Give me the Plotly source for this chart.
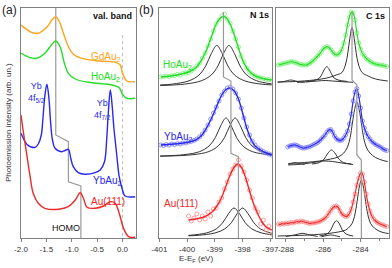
import plotly.graph_objects as go

W, H = 392, 268

# ---------------- panel (a): valence band ----------------
vb_gd_x = [-2.0, -1.79, -1.66, -1.49, -1.39, -1.315, -1.23, -1.18, -1.13, -1.066, -0.97, -0.80, -0.47, -0.14, -0.045, 0.0, 0.087, 0.25]
vb_gd_y = [213, 205.7, 204.7, 211, 218, 221.3, 214.7, 207, 199.7, 191.3, 183.7, 179.7, 177, 175.7, 173, 164.7, 157, 156.3]

vb_ho_x = [-2.0, -1.82, -1.69, -1.53, -1.39, -1.315, -1.23, -1.145, -1.066, -0.93, -0.67, -0.21, -0.065, 0.0, 0.087, 0.25]
vb_ho_y = [184.7, 180.3, 179.7, 184.7, 193.7, 197, 191.3, 174.7, 164.7, 159, 155.7, 153, 150.3, 143.7, 139.7, 139.7]

vb_yb_x = [-2.0, -1.89, -1.80, -1.72, -1.66, -1.60, -1.57, -1.53, -1.49, -1.45, -1.42, -1.38, -1.33, -1.2, -1.13, -1.066,
           -1.02, -0.97, -0.87, -0.74, -0.54, -0.44, -0.355, -0.31, -0.28, -0.24, -0.20, -0.17, -0.145, -0.11, -0.065,
           0.0, 0.05, 0.25]
vb_yb_y = [104.7, 94, 91, 90.7, 94, 103, 118, 142, 153.7, 140, 118, 98, 89.7, 86.3, 87.5, 88.7,
           80, 71.3, 65.3, 63.7, 65.3, 68, 76.3, 100, 125, 148, 130, 110, 98, 81.3, 61.3,
           48, 42, 41.3]

vb_au_x = [-2.0, -1.95, -1.89, -1.82, -1.76, -1.66, -1.53, -1.26, -1.07, -0.93, -0.835, -0.77, -0.70, -0.54, -0.375,
           -0.24, -0.145, -0.065, 0.02, 0.12, 0.22, 0.25]
vb_au_y = [123, 104.7, 84.7, 61.3, 44.7, 34.7, 29.7, 28.7, 31.3, 38, 45.3, 39.7, 30.7, 29.7, 32,
           36.3, 34.7, 24.7, 9.7, 1.3, 0.7, 1]

vb_guide_x = [-1.315, -1.315, -1.066, -1.066, -0.82, -0.82]
vb_guide_y = [230, 103, 96.3, 56.3, 52, 0]
vb_fermi_x = [0.0, 0.0]
vb_fermi_y = [203, 0]

vb_ticks = [-2.0, -1.5, -1.0, -0.5, 0.0]
vb_ticktext = ["-2.0", "-1.5", "-1.0", "-0.5", "0.0"]

# ---------------- panel (b): N 1s ----------------
n_x = [-400.95, -400.85, -400.75, -400.65, -400.55, -400.45, -400.35, -400.25, -400.15, -400.05,
       -399.95, -399.85, -399.75, -399.65, -399.55, -399.45, -399.35, -399.25, -399.15, -399.05,
       -398.95, -398.85, -398.75, -398.65, -398.55, -398.45, -398.35, -398.25, -398.15, -398.05,
       -397.95, -397.85, -397.75, -397.65, -397.55, -397.45, -397.35, -397.25, -397.15, -397.05, -396.95]
n_ho_data = [161, 161.5, 162, 161.5, 162.5, 162.5, 163.5, 163, 164.5, 165,
             165.5, 167, 169, 172, 175, 180, 185, 192, 199, 207,
             214, 218, 222, 224, 219, 215, 207, 199, 191, 182,
             176, 170, 166, 164, 162, 161, 160, 159.5, 158.5, 158.5, 158]
n_yb_data = [93, 92.5, 93.5, 93, 94, 93.5, 94.5, 94, 95, 95,
             96, 96.5, 97.5, 99, 101, 104, 108, 113, 119, 125,
             131, 137, 143, 147, 150, 151, 149, 145, 139, 130,
             120, 111, 103, 97, 93, 90, 88, 86.5, 85, 84, 83]

n_ho_fit_x = [-400.95, -400.6, -400.2, -399.9, -399.7, -399.5, -399.3, -399.1, -398.95, -398.8, -398.7, -398.6,
              -398.45, -398.3, -398.15, -398.0, -397.85, -397.7, -397.5, -397.2, -396.95]
n_ho_fit_y = [161, 162, 164, 166.5, 170, 177, 188, 203, 214, 220, 221.5, 220.5,
              214, 203, 190, 178, 170, 165, 161.5, 159, 158]
n_ho_c1_x = [-400.97, -400.53, -399.93, -399.57, -399.33, -399.13, -398.93, -398.73, -398.53, -398.29, -397.93, -397.33, -396.95]
n_ho_c1_y = [153, 153.9, 157.2, 163, 172, 184.3, 192.5, 184.3, 172, 163, 157.2, 153.9, 153.1]
n_ho_c2_x = [-400.97, -400.09, -399.49, -399.13, -398.89, -398.69, -398.49, -398.29, -398.09, -397.85, -397.49, -396.95]
n_ho_c2_y = [152.5, 153.9, 157.2, 163, 172, 184.3, 192.5, 184.3, 172, 163, 157.2, 154.1]

n_yb_fit_x = [-400.95, -400.5, -400.0, -399.7, -399.5, -399.3, -399.1, -398.9, -398.75, -398.6, -398.45, -398.3,
              -398.15, -398.0, -397.85, -397.7, -397.55, -397.35, -397.15, -396.95]
n_yb_fit_y = [93, 94, 95.5, 98, 102, 110, 121, 134, 143, 148.5, 150, 147,
              139, 125, 110, 99, 92, 88, 85, 83]
n_yb_c1_x = [-400.97, -400.12, -399.55, -399.21, -398.98, -398.79, -398.6, -398.41, -398.22, -397.99, -397.65, -397.08, -396.95]
n_yb_c1_y = [82, 83.3, 86.4, 92, 100.5, 112.2, 120, 112.2, 100.5, 92, 86.4, 83.3, 83]
n_yb_c2_x = [-400.97, -399.79, -399.22, -398.88, -398.65, -398.46, -398.27, -398.08, -397.89, -397.66, -397.32, -396.95]
n_yb_c2_y = [81.8, 83.3, 86.4, 92, 100.5, 112.2, 120, 112.2, 100.5, 92, 86.4, 84]

n_au_x = [-399.95, -399.85, -399.75, -399.65, -399.55, -399.45, -399.35, -399.25, -399.15, -399.05,
          -398.95, -398.85, -398.75, -398.65, -398.55, -398.45, -398.35, -398.25, -398.15, -398.05,
          -397.95, -397.85, -397.75, -397.65, -397.55, -397.45, -397.35, -397.25, -397.15, -397.05, -396.95]
n_au_data = [22, 17, 20, 24, 18, 22, 19, 26, 22, 29,
             30, 36, 40, 49, 56, 64, 69, 73, 78, 72,
             66, 58, 48, 40, 30, 26, 14, 18, 8, 12, 4]
n_au_fit_x = [-399.95, -399.6, -399.35, -399.1, -398.9, -398.75, -398.6, -398.45, -398.3, -398.17, -398.05,
              -397.9, -397.75, -397.6, -397.45, -397.3, -397.15, -396.95]
n_au_fit_y = [18, 19.5, 21.5, 26, 33, 41, 52, 63, 71, 74, 71,
              61, 47, 34, 24, 16, 11, 8]
n_au_c1_x = [-399.95, -399.31, -398.95, -398.71, -398.51, -398.31, -398.11, -397.91, -397.67, -397.31, -396.95]
n_au_c1_y = [2.6, 5, 9.1, 15.5, 24.2, 30, 24.2, 15.5, 9.1, 5, 3.3]
n_au_c2_x = [-399.95, -399.6, -399.0, -398.64, -398.4, -398.2, -398.0, -397.8, -397.6, -397.36, -396.95]
n_au_c2_y = [2.2, 2.7, 5, 9.1, 15.5, 24.2, 30, 24.2, 15.5, 9.1, 4.7]

n_guide_x = [-398.69, -398.69, -398.42, -398.42, -398.15, -398.15]
n_guide_y = [226, 161, 157, 84.7, 81.3, 0]

n_ticks = [-401, -400, -399, -398, -397]
n_ticktext = ["-401", "-400", "-399", "-398", "-397"]

# ---------------- panel (b): C 1s ----------------
c_x = [-288.4, -288.3, -288.2, -288.1, -288.0, -287.9, -287.8, -287.7, -287.6, -287.5,
       -287.4, -287.3, -287.2, -287.1, -287.0, -286.9, -286.8, -286.7, -286.6, -286.5,
       -286.4, -286.3, -286.2, -286.1, -286.0, -285.9, -285.8, -285.7, -285.6, -285.5,
       -285.4, -285.3, -285.2, -285.1, -285.0, -284.9, -284.8, -284.7, -284.6, -284.5,
       -284.4, -284.3, -284.2, -284.1, -284.0, -283.9, -283.8, -283.7, -283.6, -283.5,
       -283.4, -283.3, -283.2, -283.1, -283.0, -282.9, -282.8, -282.7, -282.6]
c_ho_data = [173, 173.5, 174, 174.5, 175, 175.5, 176, 176.5, 176, 175.5,
             175, 174, 173.5, 173, 173, 173, 174, 175, 176.5, 178,
             180, 182, 184, 186.5, 189, 190.5, 191.5, 190.5, 188.5, 186,
             184, 183, 183.5, 185.5, 189, 195, 203, 213, 221, 226,
             225, 218, 205, 195, 189, 184.5, 182, 179.5, 178, 176.5,
             175.5, 174.5, 174, 173.5, 173, 173, 172.5, 172, 171.5]
c_au_data = [14, 13.5, 14.5, 14, 15, 14.5, 15, 15.5, 15, 16,
             16.5, 16, 17, 16.5, 16, 15.5, 15, 14.5, 15, 15,
             15.5, 16, 16.5, 17.5, 18.5, 20, 22, 25, 27.5, 30,
             31.5, 32, 30.5, 27, 24, 22.5, 21.5, 22, 24.5, 29,
             36, 44, 53, 60, 65, 64, 56, 44, 34, 27,
             22, 19, 17, 15.5, 14.5, 13.5, 13, 12, 11.5]
c_yb_x = [-287.9, -287.8, -287.7, -287.6, -287.5, -287.4, -287.3, -287.2, -287.1, -287.0,
          -286.9, -286.8, -286.7, -286.6, -286.5, -286.4, -286.3, -286.2, -286.1, -286.0,
          -285.9, -285.8, -285.7, -285.6, -285.5, -285.4, -285.3, -285.2, -285.1, -285.0,
          -284.9, -284.8, -284.7, -284.6, -284.5, -284.4, -284.3, -284.2, -284.1, -284.0,
          -283.9, -283.8, -283.7, -283.6, -283.5, -283.4, -283.3, -283.2, -283.1, -283.0,
          -282.9, -282.8, -282.7, -282.6]
c_yb_data = [91, 92, 92.5, 93, 93, 92.5, 91.5, 90.5, 90, 90,
             90.5, 91, 91.5, 92.5, 93.5, 94.5, 95.5, 97, 99, 101,
             103, 106, 108, 108.5, 106, 102, 99.5, 98, 97.5, 98,
             100, 103, 107, 114, 124, 137, 146, 149.5, 142, 130,
             117, 110, 105, 101.5, 99, 96.5, 95, 93.5, 92.5, 91.5,
             90.5, 89, 88, 87.5]

c_ho_c1_x = [-288.44, -287.5, -286.5, -285.8, -285.3, -285.0, -284.8, -284.68, -284.58, -284.46, -284.34, -284.24,
             -284.12, -283.92, -283.6, -283.2, -282.55]
c_ho_c1_y = [156, 156.5, 158, 160, 163, 165.5, 174, 185.5, 199.5, 210.5, 199.5, 185.5,
             174, 165.5, 162, 159, 157]
c_ho_c2_x = [-286.9, -286.4, -286.2, -286.05, -285.93, -285.81, -285.69, -285.57, -285.42, -285.2, -284.7]
c_ho_c2_y = [156, 158, 160, 164.5, 169, 171.3, 169, 164.5, 160, 158, 156.5]
c_ho_c3_x = [-288.44, -288.1, -287.9, -287.74, -287.58, -287.38, -287.0]
c_ho_c3_y = [155.8, 156.5, 157.5, 158, 157.5, 156.5, 155.8]
c_ho_c4_x = [-287.4, -286.8, -286.3, -285.9, -285.5, -285.0, -284.4]
c_ho_c4_y = [155.7, 156.3, 157, 157.5, 157, 156.3, 155.7]

c_yb_c1_x = [-287.87, -287.0, -286.2, -285.6, -285.2, -284.9, -284.7, -284.56, -284.44, -284.32, -284.2, -284.08,
             -283.96, -283.84, -283.7, -283.5, -283.2, -282.8, -282.55]
c_yb_c1_y = [74.5, 75.5, 77, 79, 81, 85, 91, 100.5, 115, 128.5, 136.3, 128.5,
             115, 100.5, 91, 85, 80.5, 77.5, 76.5]
c_yb_c2_x = [-286.6, -286.2, -285.95, -285.78, -285.56, -285.34, -285.17, -284.92, -284.5]
c_yb_c2_y = [74, 75.5, 79, 84, 88, 84, 79, 75.5, 74]
c_yb_c3_x = [-287.87, -287.7, -287.5, -287.3, -287.0]
c_yb_c3_y = [73.5, 74.5, 75.5, 74.5, 73.5]
c_yb_c4_x = [-287.87, -287.4, -286.7, -286.2, -285.9, -285.5, -285.0, -284.4]
c_yb_c4_y = [73, 73.5, 75, 76.5, 77, 76.5, 75, 73.5]

c_au_c1_x = [-288.44, -287.0, -286.0, -285.2, -284.8, -284.55, -284.4, -284.28, -284.16, -284.06, -283.96, -283.86,
             -283.76, -283.64, -283.52, -283.37, -283.12, -282.8, -282.5]
c_au_c1_y = [2, 2.8, 4, 6, 8, 12, 17, 26, 40, 52, 58, 52,
             40, 26, 17, 12, 8, 5.5, 4.5]
c_au_c2_x = [-286.2, -285.8, -285.6, -285.45, -285.29, -285.13, -284.98, -284.78, -284.4]
c_au_c2_y = [2, 4, 8, 14, 17.3, 14, 8, 4, 2]
c_au_c3_x = [-288.0, -287.5, -287.13, -286.75, -286.3]
c_au_c3_y = [1.5, 3.2, 4.7, 3.2, 1.5]
c_au_c4_x = [-286.1, -285.8, -285.6, -285.4, -285.1]
c_au_c4_y = [1.2, 2.5, 3, 2.5, 1.2]

c_guide_x = [-284.46, -284.46, -284.2, -284.2, -283.96, -283.96]
c_guide_y = [226, 158, 153, 83, 78, 0]

c_ticks = [-288, -286, -284]
c_ticktext = ["-288", "-286", "-284"]

# ---------------- styling ----------------
ORANGE = "#ffa31a"
GREEN, GREEN_L = "#22dd22", "#86f286"
BLUE, BLUE_L = "#2828f0", "#8484ff"
RED, RED_L = "#f02828", "#ff9090"
COMP = "#333333"
GUIDE = "#9a9a9a"
FRAME = "#808080"
FONT = "Liberation Sans, Arial, sans-serif"

fig = go.Figure()


def line(x, y, color, width=1.3, ax="", dash="solid", shape="spline"):
    fig.add_trace(go.Scatter(x=x, y=y, mode="lines", xaxis="x" + ax, yaxis="y" + ax,
                             line=dict(color=color, width=width, dash=dash, shape=shape, smoothing=1.0),
                             hoverinfo="skip", showlegend=False))


def dots(x, y, color, ax):
    fig.add_trace(go.Scatter(x=x, y=y, mode="markers", xaxis="x" + ax, yaxis="y" + ax,
                             marker=dict(symbol="circle-open", size=4, color=color, line=dict(width=0.9)),
                             hoverinfo="skip", showlegend=False))


# panel (a)
line(vb_fermi_x, vb_fermi_y, "#c0c0c0", 1, "", "dot", "linear")
line(vb_guide_x, vb_guide_y, GUIDE, 1.2, "", "solid", "linear")
line(vb_gd_x, vb_gd_y, ORANGE, 1.4)
line(vb_ho_x, vb_ho_y, GREEN, 1.4)
line(vb_yb_x, vb_yb_y, BLUE, 1.4)
line(vb_au_x, vb_au_y, RED, 1.4)

# N 1s
for cx, cy in [(n_ho_c1_x, n_ho_c1_y), (n_ho_c2_x, n_ho_c2_y), (n_yb_c1_x, n_yb_c1_y),
               (n_yb_c2_x, n_yb_c2_y), (n_au_c1_x, n_au_c1_y), (n_au_c2_x, n_au_c2_y)]:
    line(cx, cy, COMP, 1.0, "2")
dots(n_x, n_ho_data, GREEN_L, "2")
dots(n_x, n_yb_data, BLUE_L, "2")
dots(n_au_x, n_au_data, RED_L, "2")
line(n_ho_fit_x, n_ho_fit_y, GREEN, 1.4, "2")
line(n_yb_fit_x, n_yb_fit_y, BLUE, 1.4, "2")
line(n_au_fit_x, n_au_fit_y, RED, 1.4, "2")
line(n_guide_x, n_guide_y, GUIDE, 1.2, "2", "solid", "linear")

# C 1s
for cx, cy in [(c_ho_c1_x, c_ho_c1_y), (c_ho_c2_x, c_ho_c2_y), (c_ho_c3_x, c_ho_c3_y), (c_ho_c4_x, c_ho_c4_y),
               (c_yb_c1_x, c_yb_c1_y), (c_yb_c2_x, c_yb_c2_y), (c_yb_c3_x, c_yb_c3_y), (c_yb_c4_x, c_yb_c4_y),
               (c_au_c1_x, c_au_c1_y), (c_au_c2_x, c_au_c2_y), (c_au_c3_x, c_au_c3_y), (c_au_c4_x, c_au_c4_y)]:
    line(cx, cy, COMP, 1.0, "3")
dots(c_x, c_ho_data, GREEN_L, "3")
dots(c_yb_x, c_yb_data, BLUE_L, "3")
dots(c_x, c_au_data, RED_L, "3")
line(c_x, c_ho_data, GREEN, 1.2, "3")
line(c_yb_x, c_yb_data, BLUE, 1.2, "3")
line(c_x, c_au_data, RED, 1.2, "3")
line(c_guide_x, c_guide_y, GUIDE, 1.2, "3", "solid", "linear")


def xdom(a, b):
    return [a / W, b / W]


YDOM = [1 - 238 / H, 1 - 8 / H]
axis_common = dict(showline=True, mirror=True, linecolor=FRAME, linewidth=1, showgrid=False, zeroline=False,
                   ticks="outside", ticklen=3, tickcolor=FRAME, tickfont=dict(size=8, color="#333333", family=FONT))
yaxis_common = dict(showline=True, mirror=True, linecolor=FRAME, linewidth=1, showgrid=False, zeroline=False,
                    showticklabels=False, ticks="", range=[0, 230], domain=YDOM, fixedrange=True)

fig.update_layout(
    width=W, height=H, margin=dict(l=0, r=0, t=0, b=0, autoexpand=False),
    paper_bgcolor="white", plot_bgcolor="white",
    font=dict(family=FONT, size=9, color="#333333"),
    xaxis=dict(domain=xdom(21, 135.7), range=[-2.0, 0.26], tickvals=vb_ticks, ticktext=vb_ticktext, **axis_common),
    yaxis=dict(anchor="x", **yaxis_common),
    xaxis2=dict(domain=xdom(158.5, 272.3), range=[-401.03, -396.93], tickvals=n_ticks, ticktext=n_ticktext,
                anchor="y2", **axis_common),
    yaxis2=dict(anchor="x2", **yaxis_common),
    xaxis3=dict(domain=xdom(276, 389), range=[-288.53, -282.48], tickvals=c_ticks, ticktext=c_ticktext,
                anchor="y3", minor=dict(dtick=1, tick0=-288, ticklen=2, ticks="outside", tickcolor=FRAME),
                **axis_common),
    yaxis3=dict(anchor="x3", **yaxis_common),
)


def ann(text, x, y, color="#222222", size=9, xanchor="left", yanchor="middle", angle=0):
    fig.add_annotation(text=text, x=x / W, y=1 - y / H, xref="paper", yref="paper", showarrow=False,
                       xanchor=xanchor, yanchor=yanchor, textangle=angle,
                       font=dict(family=FONT, size=size, color=color))


ann("(a)", 0, 10, "#222222", 12)
ann("(b)", 137, 10, "#222222", 12)
ann("<b>val. band</b>", 133.5, 16, "#111111", 9, "right")
ann("<b>N 1s</b>", 270.5, 15, "#111111", 9, "right")
ann("<b>C 1s</b>", 386.5, 16, "#111111", 9, "right")
ann("GdAu<sub>2</sub>", 89, 57, ORANGE, 10)
ann("HoAu<sub>2</sub>", 89, 77, GREEN, 10)
ann("Yb<br>4f<sub>5/2</sub>", 26, 93, BLUE, 9)
ann("Yb<br>4f<sub>7/2</sub>", 92, 110, BLUE, 9)
ann("YbAu<sub>2</sub>", 91, 181, BLUE, 10)
ann("Au(111)", 89, 201, RED, 10)
ann("HOMO", 50, 228, "#111111", 9)
ann("HoAu<sub>2</sub>", 161, 65, GREEN, 10)
ann("YbAu<sub>2</sub>", 162, 137, BLUE, 10)
ann("Au(111)", 162, 203, RED, 10)
ann("Photoemission intensity (arb. un.)", 9, 123, "#333333", 8, "center", "middle", -90)
ann("E-E<sub>F</sub> (eV)", 196, 259, "#333333", 8, "center")

fig.write_html("out.html", config={"displayModeBar": False},
               post_script="document.body.style.margin='0px';document.body.style.overflow='hidden';")
